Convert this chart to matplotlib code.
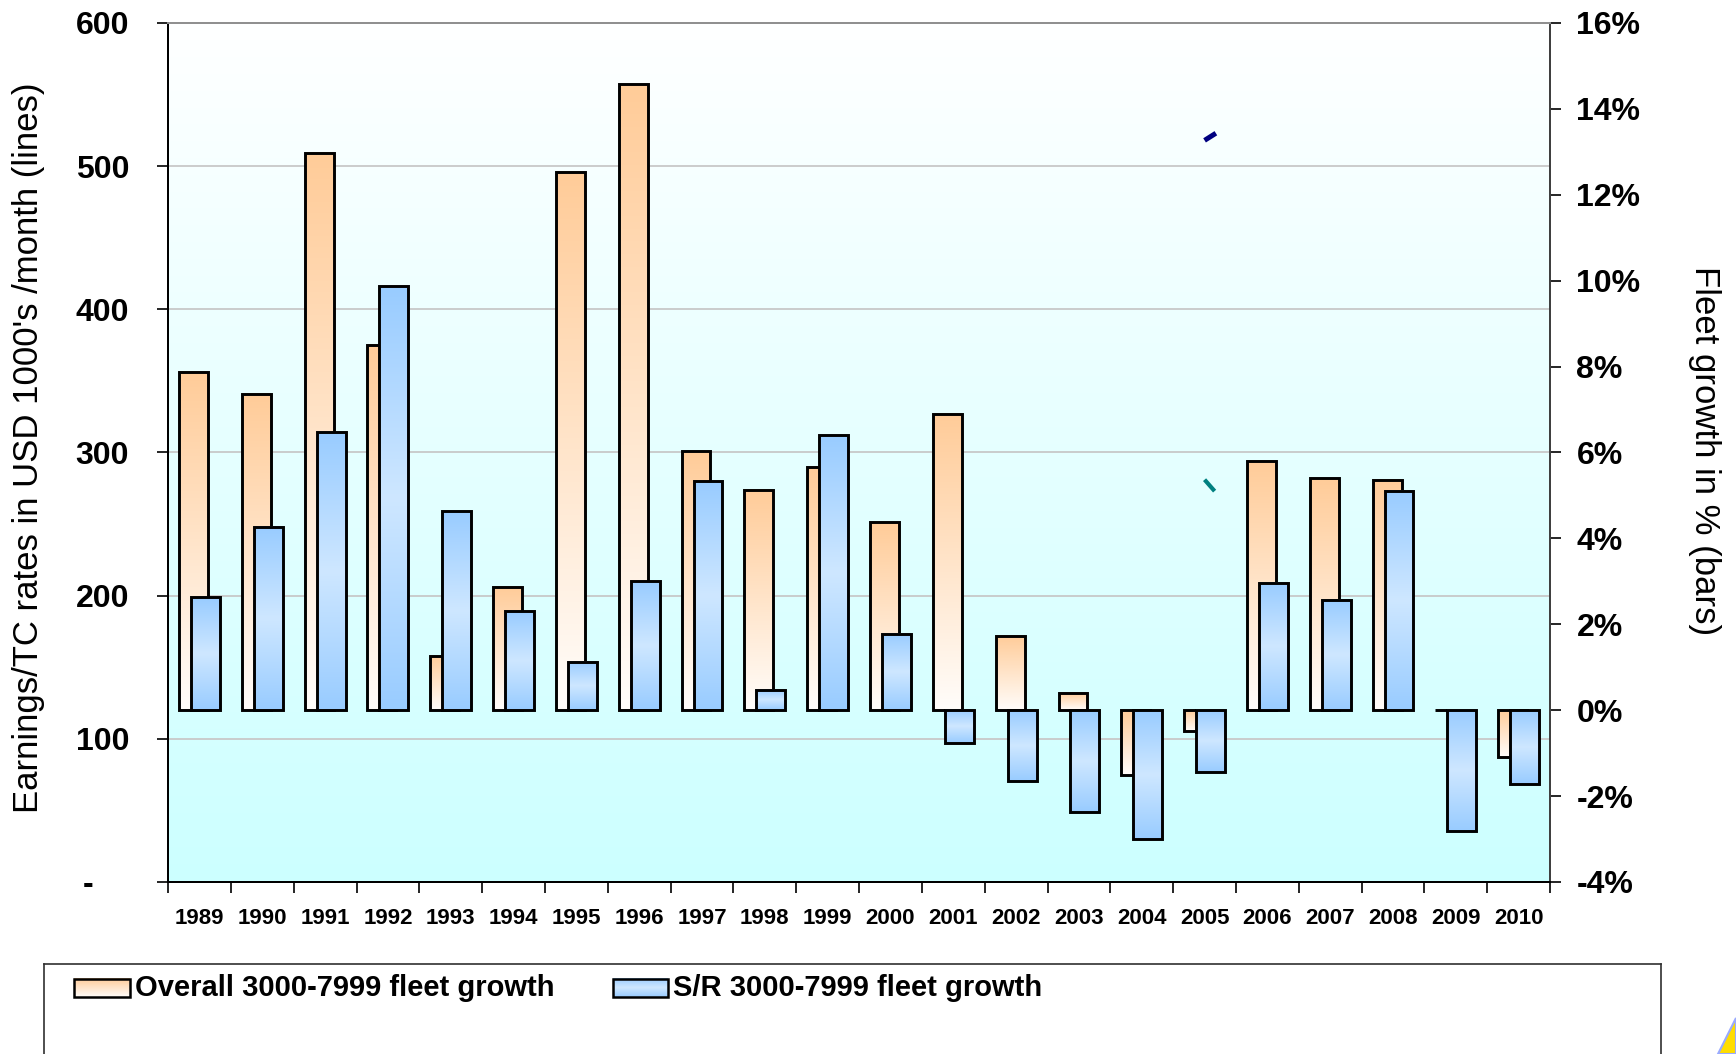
import numpy as np
import matplotlib.pyplot as plt
from matplotlib.patches import Rectangle, Polygon

plt.rcParams['font.family'] = ['Liberation Sans', 'DejaVu Sans']

# data
years = [str(y) for y in range(1989, 2011)]
overall_growth = [7.87, 7.37, 12.97, 8.5, 1.27, 2.87, 12.53, 14.57, 6.03, 5.13, 5.67,
                  4.37, 6.9, 1.73, 0.4, -1.5, -0.48, 5.8, 5.4, 5.37, 0.0, -1.1]
sr_growth = [2.63, 4.27, 6.47, 9.87, 4.63, 2.3, 1.13, 3.0, 5.33, 0.47, 6.4,
             1.77, -0.77, -1.65, -2.37, -3.0, -1.45, 2.97, 2.57, 5.1, -2.82, -1.72]

# the only visible bits of the earnings lines (left axis), around 2005
line1_pos = [16.0, 16.18]
line1_val = [518, 523]
line2_pos = [16.0, 16.16]
line2_val = [281, 273]

left_ticks = [0, 100, 200, 300, 400, 500, 600]
left_labels = ['-    ', '100', '200', '300', '400', '500', '600']
right_ticks = [-4, -2, 0, 2, 4, 6, 8, 10, 12, 14, 16]
right_labels = [f'{t}%' for t in right_ticks]

ORANGE = np.array([255, 204, 153]) / 255
BLUE = np.array([153, 204, 255]) / 255
BLUE_MID = np.array([206, 231, 255]) / 255

fig = plt.figure(figsize=(17.36, 10.54), dpi=100)
ax = fig.add_axes([0.0968, 0.1632, 0.7961, 0.815])
ax2 = ax.twinx()

# background gradient white -> light cyan
t = np.linspace(0, 1, 256)[:, None]
bg = (1 - t) * np.array([1, 1, 1]) + t * np.array([0.8, 1, 1])
ax.imshow(bg[:, None, :].repeat(2, axis=1), extent=[0, 1, 0, 1], transform=ax.transAxes,
          aspect='auto', zorder=0, interpolation='bilinear')

ax.set_ylim(0, 600)
ax.set_yticks(left_ticks)
ax.set_yticklabels(left_labels, fontsize=23, fontweight='bold')
for v in left_ticks[1:-1]:
    ax.axhline(v, color='#c8c8c8', lw=1.3, zorder=1)

ax.plot(line1_pos, line1_val, color='#000080', lw=3.6, solid_capstyle='butt', zorder=5)
ax.plot(line2_pos, line2_val, color='#008080', lw=3.0, solid_capstyle='butt', zorder=5)

x = np.arange(len(years))
w = 0.46
off = 0.095

n = 64
tt = np.linspace(0, 1, n)[:, None]
orange_img = (1 - tt) * ORANGE + tt * np.array([1.0, 0.99, 0.98])
blue_img = BLUE + (BLUE_MID - BLUE) * (1 - np.abs(2 * tt - 1))


def fill_bars(axis, xs, vals, img, z):
    for xi, v in zip(xs, vals):
        if v == 0:
            continue
        axis.imshow(img[:, None, :], extent=[xi - w / 2, xi + w / 2, min(0, v), max(0, v)],
                    origin='upper', aspect='auto', interpolation='bilinear', zorder=z)


fill_bars(ax2, x - off, overall_growth, orange_img, 2)
ax2.bar(x - off, overall_growth, w, fill=False, edgecolor='black', lw=2.1, zorder=2.5)
fill_bars(ax2, x + off, sr_growth, blue_img, 3)
ax2.bar(x + off, sr_growth, w, fill=False, edgecolor='black', lw=2.1, zorder=3.5)

ax2.set_ylim(-4, 16)
ax2.set_yticks(right_ticks)
ax2.set_yticklabels(right_labels, fontsize=23, fontweight='bold')
ax2.set_xlim(-0.5, len(years) - 0.5)

ax.set_xticks(np.arange(-0.5, len(years), 1))
ax.set_xticklabels([])
ax.set_xticks(x, minor=True)
ax.set_xticklabels(years, minor=True, fontsize=16, fontweight='bold')
ax.tick_params(axis='x', which='major', length=8, width=1.2, direction='out')
ax.tick_params(axis='x', which='minor', length=0, pad=19)
ax.tick_params(axis='y', length=8, width=1.2, pad=20)
ax2.tick_params(axis='y', length=8, width=1.2, pad=11)

ax.set_ylabel("Earnings/TC rates in USD 1000's /month (lines)", fontsize=25)
ax.yaxis.set_label_coords(-0.089, 0.505)
ax2.set_ylabel('Fleet growth in % (bars)', fontsize=25, rotation=270, va='bottom')
ax2.yaxis.set_label_coords(1.1, 0.502)

for a in (ax, ax2):
    a.spines['left'].set_color('black')
    a.spines['bottom'].set_color('black')
    a.spines['right'].set_color('#404040')
    a.spines['top'].set_color('#909090')
    for s in a.spines.values():
        s.set_linewidth(1.4)

# legend box at the bottom
lax = fig.add_axes([44 / 1736, -0.03, (1661 - 44) / 1736, 0.03 + 1 - 964 / 1054])
lax.set_xticks([])
lax.set_yticks([])
for s in lax.spines.values():
    s.set_linewidth(1.2)
    s.set_color('#303030')
lax.set_facecolor('white')
leg_items = [('Overall 3000-7999 fleet growth', orange_img, 74, 130),
             ('S/R 3000-7999 fleet growth', blue_img, 613, 668)]
for label, img, x0, x1 in leg_items:
    lax.imshow(img[:, None, :], extent=[x0, x1, 997, 979], origin='upper', aspect='auto',
               interpolation='bilinear', zorder=2)
    lax.add_patch(Rectangle((x0, 979), x1 - x0, 18, fill=False, edgecolor='black', lw=1.8, zorder=3))
    lax.text(x1 + 5, 988, label, fontsize=21, fontweight='bold', va='center', ha='left')
lax.set_xlim(44, 1661)
lax.set_ylim(1054 + 0.03 * 1054, 964)

# corner of the logo at the bottom right
fig.patches.append(Polygon([[1718 / 1736, 0], [1736 / 1736, 36 / 1054], [1, 0]],
                           closed=True, transform=fig.transFigure, facecolor='#ffdd00',
                           edgecolor='#99aaff', lw=1.5))

fig.savefig('out.png', dpi=100)
